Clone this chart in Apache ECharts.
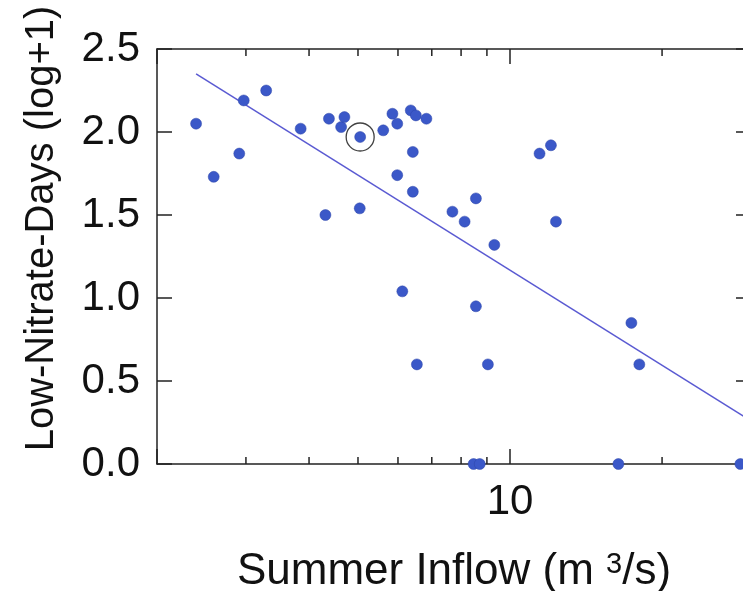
<!DOCTYPE html>
<html>
<head>
<meta charset="utf-8">
<script src="https://cdn.jsdelivr.net/npm/echarts@6/dist/echarts.min.js"></script>
<style>
  html, body { margin: 0; padding: 0; background: #fff; }
  #main { width: 743px; height: 591px; }
</style>
</head>
<body>
<div id="main"></div>
<script>
// summer inflow (m3/s) and low-nitrate-days (log+1)
const inflow = [2.39, 2.59, 2.97, 2.91, 3.29, 3.85, 4.38, 4.31, 4.63, 4.70,
  5.05, 5.04, 5.61, 5.85, 5.98, 5.98, 6.12, 6.36, 6.51, 6.42,
  6.42, 6.54, 6.83, 7.69, 8.13, 8.56, 8.56, 8.47, 8.71, 9.04,
  9.31, 11.44, 12.05, 12.33, 16.39, 17.39, 18.03, 28.58];
const lowNitrateDays = [2.05, 1.73, 2.19, 1.87, 2.25, 2.02, 2.08, 1.50, 2.03, 2.09,
  1.97, 1.54, 2.01, 2.11, 2.05, 1.74, 1.04, 2.13, 2.10, 1.88,
  1.64, 0.60, 2.08, 1.52, 1.46, 1.60, 0.95, 0, 0, 0.60,
  1.32, 1.87, 1.92, 1.46, 0, 0.85, 0.60, 0];

// highlighted year (circled)
const circled = [5.05, 1.97];

// fitted line end points
const trendX = [2.39, 30];
const trendY = [2.35, 0.26];

// x ticks without labels
const minorTicks = [3, 4, 5, 6, 7, 8, 9, 20];
const yTicks = [0, 0.5, 1.0, 1.5, 2.0, 2.5];

const font = 'Liberation Sans, Arial, Helvetica, sans-serif';
const axisColor = '#222';

let chart = echarts.init(document.getElementById('main'));

const baseX = {
  type: 'log',
  logBase: 10,
  min: 2,
  max: 30,
  splitLine: { show: false },
  axisLine: { onZero: false, lineStyle: { color: axisColor, width: 1.5 } },
  axisTick: { inside: true, length: 15, lineStyle: { color: axisColor, width: 1.5 } }
};
const baseY = {
  type: 'value',
  min: yTicks[0],
  max: yTicks[yTicks.length - 1],
  interval: 0.5,
  splitLine: { show: false },
  axisLine: { show: true, onZero: false, lineStyle: { color: axisColor, width: 1.5 } },
  axisTick: { show: true, inside: true, length: 15, lineStyle: { color: axisColor, width: 1.5 } }
};

const option = {
  animation: false,
  backgroundColor: '#fff',
  grid: { left: 157, top: 49, bottom: 127, right: -8, containLabel: false, outerBoundsMode: 'none' },
  xAxis: [
    Object.assign({}, baseX, {
      position: 'bottom',
      axisLabel: {
        fontFamily: font, fontSize: 42, color: '#111', margin: 17,
        formatter: v => (Math.abs(v - 10) < 1e-6 ? '10' : '')
      },
      name: 'Summer Inflow (m {sup|3}/s)',
      nameLocation: 'middle',
      nameGap: 86,
      nameTextStyle: {
        fontFamily: font, fontSize: 44, color: '#111',
        rich: { sup: { fontFamily: font, fontSize: 29, color: '#111', verticalAlign: 'top', lineHeight: 12, padding: [0, 0, 8, 0] } }
      }
    }),
    Object.assign({}, baseX, { position: 'top', axisLabel: { show: false } })
  ],
  yAxis: [
    Object.assign({}, baseY, {
      position: 'left',
      axisLabel: {
        fontFamily: font, fontSize: 42, color: '#111', margin: 17,
        formatter: v => v.toFixed(1)
      },
      name: 'Low-Nitrate-Days (log+1)',
      nameLocation: 'middle',
      nameGap: 95,
      nameTextStyle: { fontFamily: font, fontSize: 40, color: '#111', padding: [0, 0, 0, 56] }
    }),
    Object.assign({}, baseY, { position: 'right', axisLabel: { show: false } })
  ],
  series: [
    {
      type: 'line',
      data: trendX.map((x, i) => [x, trendY[i]]),
      symbol: 'none',
      lineStyle: { color: '#5a5ad2', width: 1.5 },
      z: 2
    },
    {
      type: 'scatter',
      data: inflow.map((x, i) => [x, lowNitrateDays[i]]),
      symbolSize: 11,
      itemStyle: { color: '#3b58c8', borderColor: '#2c44a8', borderWidth: 0.5, opacity: 1 },
      z: 3
    },
    {
      type: 'scatter',
      data: [circled],
      symbolSize: 28,
      itemStyle: { color: 'rgba(0,0,0,0)', borderColor: '#111', borderWidth: 1.3 },
      z: 4
    },
    {
      // short ticks at 3..9 and 20, top and bottom
      type: 'custom',
      data: minorTicks.map(v => [v, 0]),
      clip: false,
      silent: true,
      renderItem: function (params, api) {
        const bottom = api.coord([api.value(0), yTicks[0]]);
        const top = api.coord([api.value(0), yTicks[yTicks.length - 1]]);
        const st = { stroke: axisColor, lineWidth: 1.5 };
        return {
          type: 'group',
          children: [
            { type: 'line', shape: { x1: bottom[0], y1: bottom[1], x2: bottom[0], y2: bottom[1] - 7 }, style: st },
            { type: 'line', shape: { x1: top[0], y1: top[1], x2: top[0], y2: top[1] + 7 }, style: st }
          ]
        };
      },
      z: 1
    }
  ]
};

chart.setOption(option);
</script>
</body>
</html>
